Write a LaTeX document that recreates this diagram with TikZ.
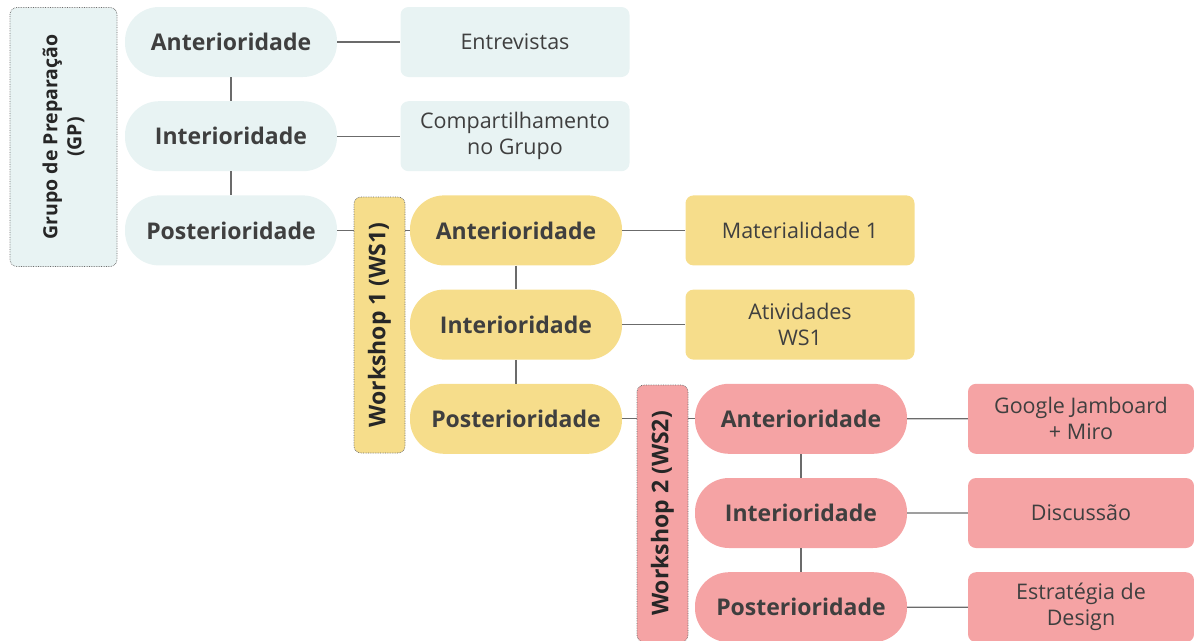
\documentclass[tikz,border=0pt]{standalone}
\usepackage{fontspec}
\setmainfont{Open Sans}
\usetikzlibrary{positioning}

\definecolor{gpfill}{HTML}{E8F3F3}
\definecolor{wsafill}{HTML}{F6DD8B}
\definecolor{wsbfill}{HTML}{F5A3A4}
\definecolor{linegray}{HTML}{6B6B6B}
\definecolor{textgray}{HTML}{3F3F3F}

\begin{document}
\begin{tikzpicture}[x=1pt, y=-1pt,
  every pill/.style={minimum width=212pt, minimum height=70pt, rounded corners=34pt,
    inner sep=0pt, text=textgray, font=\bfseries\fontsize{23}{27}\selectfont},
  every leaf/.style={minimum width=229pt, minimum height=70pt, rounded corners=8pt,
    inner sep=0pt, align=center, text=textgray, font=\fontsize{21.5}{26}\selectfont},
  every stage/.style={rotate=90, rounded corners=7pt, draw=linegray, densely dotted,
    line width=0.7pt, inner sep=0pt, align=center, text=black!85},
  link/.style={draw=linegray, line width=1.2pt}]

\useasboundingbox (0,0) rectangle (1194,640);

% stage labels
\node [every stage, fill=gpfill, minimum width=259pt, minimum height=107pt,
  font=\bfseries\fontsize{19.5}{24}\selectfont]
  (stage-gp) at (63.5,137) {Grupo de Preparação\\(GP)};
\node [every stage, fill=wsafill, minimum width=256pt, minimum height=51pt,
  font=\bfseries\fontsize{23}{26}\selectfont]
  (stage-ws1) at (379.5,325) {Workshop 1 (WS1)};
\node [every stage, fill=wsbfill, minimum width=257pt, minimum height=51pt,
  font=\bfseries\fontsize{23}{26}\selectfont]
  (stage-ws2) at (662.5,513.5) {Workshop 2 (WS2)};

\foreach \s/\c [count=\i from 0] in {gp/gpfill, ws1/wsafill, ws2/wsbfill}
  \foreach \l [count=\j from 0] in {Anterioridade, Interioridade, Posterioridade}
    \node [every pill, fill=\c] (\s-\j) at (231+285*\i, 42+188.4*\i+94.2*\j) {\l};

\foreach \l [count=\j from 0] in {Entrevistas, {Compartilhamento\\no Grupo}}
  \node [every leaf, fill=gpfill] (gp-leaf-\j) at (515, 42+94.2*\j) {\l};

\foreach \l [count=\j from 0] in {Materialidade 1, {Atividades\\WS1}}
  \node [every leaf, fill=wsafill] (ws1-leaf-\j) at (800, 230.4+94.2*\j) {\l};

\foreach \l [count=\j from 0] in {{Google Jamboard\\+ Miro}, Discussão, {Estratégia de\\Design}}
  \node [every leaf, fill=wsbfill, minimum width=226pt] (ws2-leaf-\j) at (1081, 418.8+94.2*\j) {\l};

\foreach \s in {gp, ws1, ws2} {
  \draw [link] (\s-0) -- (\s-1);
  \draw [link] (\s-1) -- (\s-2);
}

\foreach \j in {0,1} {
  \draw [link] (gp-\j) -- (gp-leaf-\j);
  \draw [link] (ws1-\j) -- (ws1-leaf-\j);
}
\foreach \j in {0,1,2}
  \draw [link] (ws2-\j) -- (ws2-leaf-\j);

% stage to stage
\draw [link] (gp-2.east) -- (gp-2.east -| stage-ws1.north);
\draw [link] (stage-ws1.south |- ws1-0) -- (ws1-0.west);
\draw [link] (ws1-2.east) -- (ws1-2.east -| stage-ws2.north);
\draw [link] (stage-ws2.south |- ws2-0) -- (ws2-0.west);

\end{tikzpicture}
\end{document}
